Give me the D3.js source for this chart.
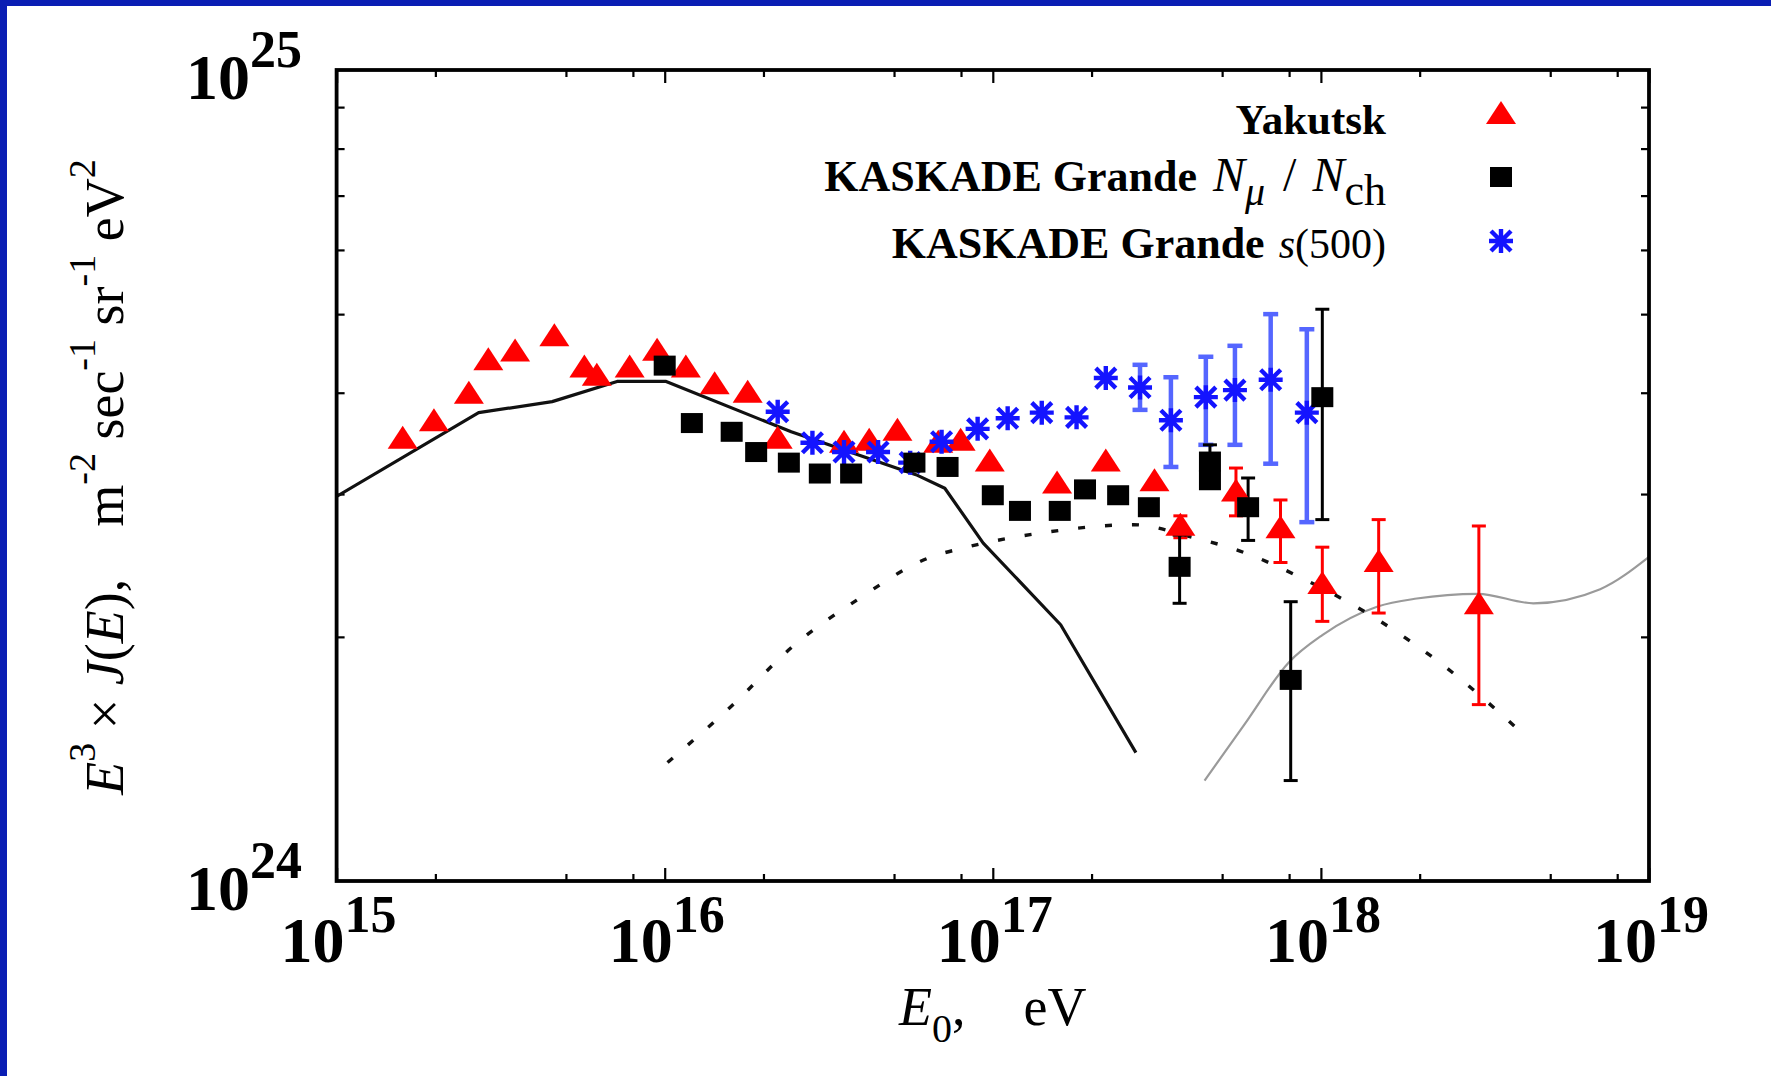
<!DOCTYPE html>
<html>
<head>
<meta charset="utf-8">
<script src="https://cdn.jsdelivr.net/npm/d3@7"></script>
<style>
    html, body { margin: 0; padding: 0; background: #fff; }
    svg { display: block; }
    text { font-family: 'Liberation Serif', 'Times New Roman', serif; fill: #000; }
</style>
</head>
<body>
<div id="chart_parent"></div>
<script>
// flux values are in units of 1e24 m^-2 sec^-1 sr^-1 eV^2
const J_UNIT = 1e24;

// Yakutsk
const yakutskE = [1.59e15, 1.98e15, 2.53e15, 2.90e15, 3.50e15, 4.61e15, 5.69e15, 6.21e15, 7.82e15, 9.48e15,
    1.16e16, 1.42e16, 1.79e16, 2.21e16, 3.52e16, 4.20e16, 5.12e16, 6.82e16, 7.98e16, 9.79e16,
    1.57e17, 2.21e17, 3.11e17, 3.73e17, 5.51e17, 7.53e17, 1.01e18, 1.50e18, 3.03e18];
const yakutskJ = [3.52, 3.70, 4.00, 4.40, 4.51, 4.71, 4.31, 4.21, 4.31, 4.52,
    4.31, 4.11, 4.01, 3.52, 3.48, 3.50, 3.60, 3.48, 3.50, 3.30,
    3.10, 3.30, 3.12, 2.75, 3.03, 2.73, 2.33, 2.48, 2.20];
const yakutskLo = [null, null, null, null, null, null, null, null, null, null,
    null, null, null, null, null, null, null, null, null, null,
    null, null, null, 2.65, 2.82, 2.47, 2.09, 2.14, 1.65];
const yakutskHi = [null, null, null, null, null, null, null, null, null, null,
    null, null, null, null, null, null, null, null, null, null,
    null, null, null, 2.82, 3.23, 2.95, 2.58, 2.79, 2.74];

// KASKADE Grande N_mu / N_ch
const kgNmuE = [1.00e16, 1.21e16, 1.60e16, 1.90e16, 2.39e16, 2.97e16, 3.70e16, 5.77e16, 7.28e16, 1.00e17,
    1.21e17, 1.60e17, 1.91e17, 2.41e17, 2.99e17, 3.71e17, 4.59e17, 4.59e17, 6.00e17, 8.09e17, 1.01e18];
const kgNmuJ = [4.32, 3.67, 3.58, 3.38, 3.28, 3.18, 3.18, 3.28, 3.24, 2.99,
    2.86, 2.86, 3.04, 2.99, 2.89, 2.44, 3.29, 3.12, 2.89, 1.77, 3.95];
const kgNmuLo = [null, null, null, null, null, null, null, null, null, null,
    null, null, null, null, null, 2.20, 3.13, null, 2.63, 1.33, 2.79];
const kgNmuHi = [null, null, null, null, null, null, null, null, null, null,
    null, null, null, null, null, 2.67, 3.45, null, 3.14, 2.21, 5.07];

// KASKADE Grande s(500)
const kgS500E = [2.21e16, 2.82e16, 3.52e16, 4.47e16, 5.60e16, 6.98e16, 8.99e16, 1.11e17, 1.41e17, 1.80e17,
    2.21e17, 2.81e17, 3.49e17, 4.46e17, 5.47e17, 7.03e17, 9.06e17];
const kgS500J = [3.79, 3.47, 3.38, 3.38, 3.28, 3.48, 3.61, 3.72, 3.78, 3.73,
    4.17, 4.06, 3.70, 3.95, 4.03, 4.15, 3.78];
const kgS500Lo = [null, null, null, null, null, null, null, null, null, null,
    null, 3.81, 3.24, 3.45, 3.45, 3.27, 2.77];
const kgS500Hi = [null, null, null, null, null, null, null, null, null, null,
    null, 4.33, 4.18, 4.43, 4.57, 5.00, 4.79];

// model curves
const solidE = [1e15, 2.71e15, 4.54e15, 7.16e15, 1.01e16, 2.43e16, 5.83e16, 7.14e16, 9.35e16, 1.61e17, 2.73e17];
const solidJ = [2.98, 3.78, 3.90, 4.13, 4.13, 3.58, 3.17, 3.05, 2.61, 2.07, 1.44];

const dottedE = [1.02e16, 1.59e16, 2.47e16, 3.85e16, 6.50e16, 8.00e16, 1.44e17, 2.68e17, 3.96e17,
    5.85e17, 8.63e17, 1.49e18, 2.38e18, 4.19e18];
const dottedJ = [1.40, 1.64, 1.95, 2.22, 2.51, 2.57, 2.69, 2.75, 2.66, 2.54, 2.37, 2.10, 1.84, 1.51];

const grayE = [4.42e17, 5.85e17, 7.98e17, 1.01e18, 1.49e18, 1.96e18, 3.01e18, 4.44e18, 7.10e18, 1.0e19];
const grayJ = [1.33, 1.56, 1.86, 2.01, 2.18, 2.23, 2.26, 2.20, 2.29, 2.51];

// axes
const xTickExps = [15, 16, 17, 18, 19];
const yTickExps = [24, 25];
const xMinorMults = [2, 5, 8];
const yMinorMults = [2, 3, 4, 5, 6, 7, 8, 9];

const config = {
    outerWidth: 1771,
    outerHeight: 1076,
    plot: { left: 336.6, right: 1649, top: 70, bottom: 881 },
    frame: '#0a1eb4',
};

const RED = '#ff0000';
const BLUE = '#1414ff';
const BLUE_BAR = '#5566ff';

const svg = d3.select('#chart_parent').append('svg')
    .attr('width', config.outerWidth)
    .attr('height', config.outerHeight);

svg.append('rect').attr('width', config.outerWidth).attr('height', config.outerHeight).attr('fill', '#fff');
svg.append('rect').attr('width', config.outerWidth).attr('height', 6).attr('fill', config.frame);
svg.append('rect').attr('width', 7).attr('height', config.outerHeight).attr('fill', config.frame);

const p = config.plot;
const x = d3.scaleLog().domain([1e15, 1e19]).range([p.left, p.right]);
const y = d3.scaleLog().domain([1e24, 1e25]).range([p.bottom, p.top]);

// ticks
const xMajor = xTickExps.map(e => Math.pow(10, e));
const xMinor = xTickExps.slice(0, -1).flatMap(e => xMinorMults.map(m => m * Math.pow(10, e)));
const yMinor = yTickExps.slice(0, -1).flatMap(e => yMinorMults.map(m => m * Math.pow(10, e)));

function addTicks(axis, transform, values, size) {
    const g = svg.append('g')
        .attr('transform', transform)
        .call(axis.tickValues(values).tickSizeInner(-size).tickSizeOuter(0).tickFormat(''));
    g.select('.domain').remove();
    g.selectAll('.tick line').attr('stroke', '#000').attr('stroke-width', 2.2);
}

addTicks(d3.axisBottom(x), `translate(0,${p.bottom})`, xMajor, 13);
addTicks(d3.axisBottom(x), `translate(0,${p.bottom})`, xMinor, 7);
addTicks(d3.axisTop(x), `translate(0,${p.top})`, xMajor, 13);
addTicks(d3.axisTop(x), `translate(0,${p.top})`, xMinor, 7);
addTicks(d3.axisLeft(y), `translate(${p.left},0)`, yMinor, 8);
addTicks(d3.axisRight(y), `translate(${p.right},0)`, yMinor, 8);

// tick labels
svg.append('g').selectAll('text').data(xTickExps).join('text')
    .attr('x', d => x(Math.pow(10, d)) + 2)
    .attr('y', 962)
    .attr('text-anchor', 'middle')
    .attr('font-weight', 'bold')
    .attr('font-size', 64)
    .each(function (d) {
        const t = d3.select(this);
        t.append('tspan').text('10');
        t.append('tspan').attr('font-size', 52).attr('dy', -30).text(d);
    });

svg.append('g').selectAll('text').data(yTickExps).join('text')
    .attr('x', 302)
    .attr('y', d => y(Math.pow(10, d)) + 29)
    .attr('text-anchor', 'end')
    .attr('font-weight', 'bold')
    .attr('font-size', 64)
    .each(function (d) {
        const t = d3.select(this);
        t.append('tspan').text('10');
        t.append('tspan').attr('font-size', 52).attr('dy', -32).text(d);
    });

// axis titles
const xTitle = svg.append('text')
    .attr('x', (p.left + p.right) / 2)
    .attr('y', 1025)
    .attr('text-anchor', 'middle')
    .attr('font-size', 54);
xTitle.append('tspan').attr('font-style', 'italic').text('E');
xTitle.append('tspan').attr('font-size', 40).attr('dy', 17).text('0');
xTitle.append('tspan').attr('dy', -17).text(',');
xTitle.append('tspan').attr('dx', 58).text('eV');

const yTitle = svg.append('text')
    .attr('transform', 'translate(123,477) rotate(-90)')
    .attr('text-anchor', 'middle')
    .attr('font-size', 54)
    .attr('xml:space', 'preserve');
const yParts = [
    ['E', 'i', 0], ['3', 's', 0], [' \u00d7 ', 'n', 0], ['J', 'i', 0], ['(', 'n', 0], ['E', 'i', 0], ['),', 'n', 0],
    ['m', 'n', 52], ['-2', 's', 0], [' sec', 'n', 0], ['-1', 's', 0], [' sr', 'n', 0], ['-1', 's', 0],
    [' eV', 'n', 0], ['2', 's', 0],
];
let raised = false;
yParts.forEach(([txt, kind, gap]) => {
    const ts = yTitle.append('tspan').text(txt);
    if (kind === 'i') ts.attr('font-style', 'italic');
    if (kind === 's') {
        ts.attr('font-size', 38).attr('dy', -28);
        raised = true;
    } else if (raised) {
        ts.attr('dy', 28);
        raised = false;
    }
    if (gap) ts.attr('dx', gap);
});

// curves
svg.append('clipPath').attr('id', 'plot-clip')
    .append('rect')
    .attr('x', p.left).attr('y', p.top)
    .attr('width', p.right - p.left).attr('height', p.bottom - p.top);

const curves = svg.append('g').attr('clip-path', 'url(#plot-clip)');
const pairs = (es, js) => es.map((e, i) => [e, js[i] * J_UNIT]);

curves.append('path')
    .datum(pairs(grayE, grayJ))
    .attr('fill', 'none')
    .attr('stroke', '#9a9a9a')
    .attr('stroke-width', 2.2)
    .attr('d', d3.line().curve(d3.curveMonotoneX).x(d => x(d[0])).y(d => y(d[1])));

curves.append('path')
    .datum(pairs(dottedE, dottedJ))
    .attr('fill', 'none')
    .attr('stroke', '#111')
    .attr('stroke-width', 3.4)
    .attr('stroke-dasharray', '7 20')
    .attr('d', d3.line().curve(d3.curveMonotoneX).x(d => x(d[0])).y(d => y(d[1])));

curves.append('path')
    .datum(pairs(solidE, solidJ))
    .attr('fill', 'none')
    .attr('stroke', '#111')
    .attr('stroke-width', 3.2)
    .attr('stroke-linejoin', 'round')
    .attr('d', d3.line().x(d => x(d[0])).y(d => y(d[1])));

// error bars
function errorBars(es, lo, hi, color, width, cap) {
    const rows = es.map((e, i) => ({ e, lo: lo[i], hi: hi[i] })).filter(d => d.lo !== null);
    const g = svg.append('g').attr('stroke', color).attr('stroke-width', width);
    g.selectAll('.bar').data(rows).join('line')
        .attr('x1', d => x(d.e)).attr('x2', d => x(d.e))
        .attr('y1', d => y(d.lo * J_UNIT)).attr('y2', d => y(d.hi * J_UNIT));
    ['lo', 'hi'].forEach(k => {
        g.selectAll(`.cap-${k}`).data(rows).join('line')
            .attr('x1', d => x(d.e) - cap / 2).attr('x2', d => x(d.e) + cap / 2)
            .attr('y1', d => y(d[k] * J_UNIT)).attr('y2', d => y(d[k] * J_UNIT));
    });
}

errorBars(kgS500E, kgS500Lo, kgS500Hi, BLUE_BAR, 4.5, 15);
errorBars(yakutskE, yakutskLo, yakutskHi, RED, 3, 14);
errorBars(kgNmuE, kgNmuLo, kgNmuHi, '#000', 3, 14);

// markers
const triangle = (cx, cy) => `M${cx - 15},${cy + 11}L${cx + 15},${cy + 11}L${cx},${cy - 12}Z`;
const asterisk = (cx, cy) => {
    const r = 12, q = 10;
    return `M${cx},${cy - r}V${cy + r}M${cx - r},${cy}H${cx + r}` +
        `M${cx - q},${cy - q}L${cx + q},${cy + q}M${cx - q},${cy + q}L${cx + q},${cy - q}`;
};

svg.append('g').selectAll('path')
    .data(pairs(yakutskE, yakutskJ)).join('path')
    .attr('fill', RED)
    .attr('d', d => triangle(x(d[0]), y(d[1])));

svg.append('g').selectAll('path')
    .data(pairs(kgS500E, kgS500J)).join('path')
    .attr('fill', 'none')
    .attr('stroke', BLUE)
    .attr('stroke-width', 4.4)
    .attr('d', d => asterisk(x(d[0]), y(d[1])));

svg.append('g').selectAll('rect')
    .data(pairs(kgNmuE, kgNmuJ)).join('rect')
    .attr('fill', '#000')
    .attr('x', d => x(d[0]) - 11).attr('y', d => y(d[1]) - 10)
    .attr('width', 22).attr('height', 20);

// frame
svg.append('rect')
    .attr('x', p.left).attr('y', p.top)
    .attr('width', p.right - p.left).attr('height', p.bottom - p.top)
    .attr('fill', 'none')
    .attr('stroke', '#000')
    .attr('stroke-width', 3.8);

// legend
const legendX = 1386;
const markX = 1501;

const l1 = svg.append('text').attr('x', legendX).attr('y', 134)
    .attr('text-anchor', 'end').attr('font-size', 43).attr('font-weight', 'bold');
l1.append('tspan').text('Yakutsk');
svg.append('path').attr('fill', RED).attr('d', triangle(markX, 113));

const l2 = svg.append('text').attr('x', legendX).attr('y', 191)
    .attr('text-anchor', 'end').attr('font-size', 44).attr('font-weight', 'bold');
l2.append('tspan').text('KASKADE Grande');
l2.append('tspan').attr('dx', 16).attr('font-weight', 'normal').attr('font-style', 'italic')
    .attr('font-size', 48).text('N');
l2.append('tspan').attr('dy', 14).attr('font-weight', 'normal').attr('font-style', 'italic')
    .attr('font-size', 40).text('\u03bc');
l2.append('tspan').attr('dy', -14).attr('dx', 18).attr('font-weight', 'normal')
    .attr('font-size', 48).text('/');
l2.append('tspan').attr('dx', 16).attr('font-weight', 'normal').attr('font-style', 'italic')
    .attr('font-size', 48).text('N');
l2.append('tspan').attr('dy', 14).attr('font-weight', 'normal').attr('font-size', 44).text('ch');
svg.append('rect').attr('fill', '#000')
    .attr('x', markX - 11).attr('y', 177 - 10).attr('width', 22).attr('height', 20);

const l3 = svg.append('text').attr('x', legendX).attr('y', 258)
    .attr('text-anchor', 'end').attr('font-size', 44).attr('font-weight', 'bold');
l3.append('tspan').text('KASKADE Grande');
l3.append('tspan').attr('dx', 14).attr('font-weight', 'normal').attr('font-style', 'italic')
    .attr('font-size', 42).text('s');
l3.append('tspan').attr('font-weight', 'normal').attr('font-size', 42).text('(500)');
svg.append('path').attr('fill', 'none').attr('stroke', BLUE).attr('stroke-width', 4.4)
    .attr('d', asterisk(markX, 241));
</script>
</body>
</html>
